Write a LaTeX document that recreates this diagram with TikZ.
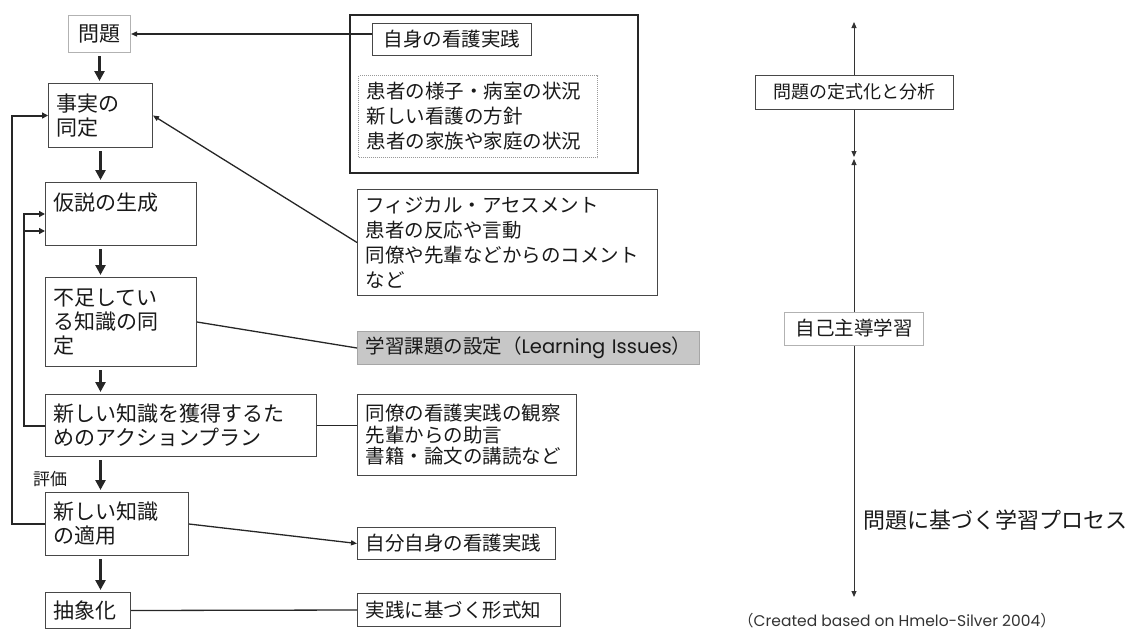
\documentclass[tikz,border=0pt]{standalone}
\usepackage{fontspec}
\setmainfont{Noto Sans CJK JP}
\newfontfamily\lat{Poppins}
\usetikzlibrary{arrows.meta,calc}
\begin{document}
\begin{tikzpicture}[x=1pt,y=-1pt,
  lbox/.style={draw=black!72, line width=1pt, anchor=north west, align=left,
    inner xsep=8pt, inner ysep=1pt, text=black!90, font=\fontsize{21}{24}\selectfont},
  rbox/.style={draw=black!72, line width=1pt, anchor=north west, align=left,
    inner xsep=8pt, inner ysep=1pt, text=black!90, font=\fontsize{19.5}{25}\selectfont},
  flow/.style={line width=2.6pt, black!85, -{Triangle[length=10pt,width=10pt]},
    shorten <=3pt, shorten >=2pt},
  loopline/.style={line width=2pt, black!85, -{Triangle[length=6pt,width=6pt]}},
  conn/.style={line width=1.3pt, black!85},
  connarrow/.style={conn, -{Triangle[length=6pt,width=5pt]}},
  axarrow/.style={line width=1pt, black!80, -{Triangle[length=6pt,width=5pt]}}
]
\useasboundingbox (0,0) rectangle (1131,632);

% left column
\node[lbox, draw=black!30, align=center, text width=46pt, minimum height=37pt] (mondai) at (68,15) {問題};
\node[lbox, text width=88pt, minimum height=64pt] (jijitsu) at (48,83) {事実の\\同定};
\node[lbox, text width=135pt, minimum height=63pt] (kasetsu) at (45,182) {仮説の生成\\\mbox{}};
\node[lbox, text width=135pt, minimum height=89pt] (fusoku) at (45,277) {不足してい\\る知識の同\\定};
\node[lbox, text width=255pt, minimum height=62pt] (atarashii) at (45,394) {新しい知識を獲得するた\\めのアクションプラン};
\node[lbox, text width=127pt, minimum height=63pt] (tekiyo) at (45,492) {新しい知識\\の適用};
\node[lbox, text width=69pt, minimum height=36pt] (chusho) at (45,592) {抽象化};
\node[anchor=west, inner sep=0pt, text=black!90, font=\fontsize{17}{18}\selectfont] (hyoka) at (33,479) {評価};

% middle column
\node[draw=black!85, line width=1.6pt, minimum width=288pt, minimum height=158pt,
  anchor=north west, inner sep=0pt] (frame) at (349,14) {};
\node[rbox, align=center, text width=143pt, minimum height=32pt] (jishin) at (372,23) {自身の看護実践};
\node[rbox, draw=black!40, densely dotted, text width=223pt, minimum height=82pt] (dotted) at (358,75)
  {患者の様子・病室の状況\\新しい看護の方針\\患者の家族や家庭の状況};
\node[rbox, text width=284pt, minimum height=106pt] (physical) at (357,189)
  {フィジカル・アセスメント\\患者の反応や言動\\同僚や先輩などからのコメント\\など};
\node[rbox, fill=black!22, draw=black!35, text width=326pt, minimum height=33pt] (gakushu) at (357,331)
  {学習課題の設定（{\lat Learning Issues}）};
\node[rbox, font=\fontsize{19.5}{21.5}\selectfont, text width=203pt, minimum height=81pt] (doryo) at (357,394)
  {同僚の看護実践の観察\\先輩からの助言\\書籍・論文の講読など};
\node[rbox, text width=182pt, minimum height=32pt] (jibun) at (357,527) {自分自身の看護実践};
\node[rbox, text width=187pt, minimum height=33pt] (keishiki) at (357,593) {実践に基づく形式知};

% right column
\node[draw=black!72, line width=1pt, text=black!90, font=\fontsize{18}{20}\selectfont,
  minimum width=198pt, minimum height=34pt, inner xsep=0pt] (teishiki) at (854,92) {問題の定式化と分析};
\node[draw=black!30, line width=1pt, text=black!90, font=\fontsize{19.5}{21}\selectfont,
  minimum width=139pt, minimum height=33pt, inner xsep=0pt] (jiko) at (854,328.5) {自己主導学習};
\coordinate (ax1) at (854,22);
\coordinate (ax2) at (854,157);
\coordinate (ax3) at (854,159);
\coordinate (ax4) at (854,597);
\draw[axarrow] (teishiki.north) -- (ax1);
\draw[axarrow] (teishiki.south) -- (ax2);
\draw[axarrow] (jiko.north) -- (ax3);
\draw[axarrow] (jiko.south) -- (ax4);
\node[anchor=west, inner sep=0pt, text=black!90, font=\fontsize{22}{24}\selectfont] (process) at (863,520) {問題に基づく学習プロセス};
\node[anchor=base west, inner sep=0pt, text=black!80, font=\lat\fontsize{15.5}{18}\selectfont] (caption) at (738,626)
  {{\normalfont （}Created based on Hmelo-Silver 2004{\normalfont ）}};

% main flow
\draw[flow] (mondai.south) -- (mondai.south |- jijitsu.north);
\draw[flow] (jijitsu.south) -- (jijitsu.south |- kasetsu.north);
\draw[flow] (kasetsu.south -| jijitsu.south) -- (fusoku.north -| jijitsu.south);
\draw[flow] (fusoku.south -| jijitsu.south) -- (atarashii.north -| jijitsu.south);
\draw[flow] (atarashii.south -| jijitsu.south) -- (tekiyo.north -| jijitsu.south);
\draw[flow] (tekiyo.south -| jijitsu.south) -- (chusho.north -| jijitsu.south);

% loops
\coordinate (k2) at ($(kasetsu.west)+(0,17)$);
\draw[loopline] (tekiyo.west) -- ++(-33,0) |- (jijitsu.west);
\draw[loopline] (atarashii.west) -- ++(-21,0) |- (kasetsu.west);
\draw[loopline] (atarashii.west) -- ++(-21,0) |- (k2);

% connectors
\draw[connarrow] (jishin.west |- mondai.east) -- (mondai.east);
\draw[connarrow] (physical.west) -- (jijitsu.east);
\draw[conn] (fusoku.east) -- (gakushu.west);
\draw[conn] (atarashii.east) -- (atarashii.east -| doryo.west);
\draw[connarrow] (tekiyo.east) -- (jibun.west);
\draw[conn] (chusho.east) -- (keishiki.west);
\end{tikzpicture}
\end{document}
